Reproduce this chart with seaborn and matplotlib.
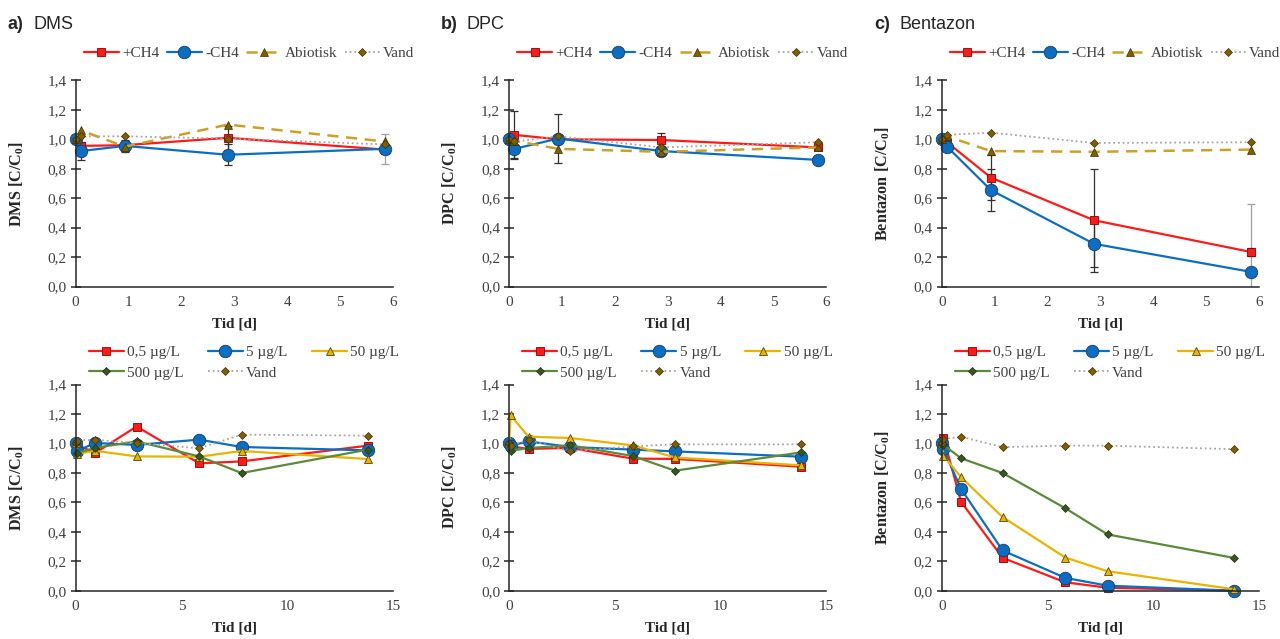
import matplotlib
matplotlib.use("Agg")
import matplotlib.pyplot as plt
from matplotlib.ticker import FuncFormatter, MultipleLocator
import seaborn as sns

# ---------------- data ----------------
# sampling times [d]
t_short = [0, 0.1, 0.93, 2.88, 5.84]
t_long = [0, 0.08, 0.92, 2.88, 5.84, 7.84, 13.8]

# top row: +CH4 / -CH4 / abiotic / water controls
dms_plus = [1.00, 0.955, 0.96, 1.01, 0.93]
dms_minus = [1.00, 0.92, 0.955, 0.895, 0.935]
dms_abio = [1.00, 1.06, 0.95, 1.10, 0.985]
dms_vand = [1.00, 1.02, 1.02, 1.005, 0.965]
dms_plus_err = [0, 0.02, 0.03, 0.08, 0.02]
dms_minus_err = [0, 0.06, 0.04, 0.07, 0.10]

dpc_plus = [1.00, 1.03, 1.00, 0.995, 0.945]
dpc_minus = [1.00, 0.935, 1.005, 0.92, 0.86]
dpc_abio = [1.00, 0.99, 0.935, 0.915, 0.945]
dpc_vand = [1.00, 0.985, 1.02, 0.945, 0.98]
dpc_plus_err = [0, 0.165, 0.03, 0.045, 0.02]
dpc_minus_err = [0, 0.06, 0.165, 0.01, 0.025]

ben_plus = [1.00, 0.98, 0.74, 0.45, 0.235]
ben_minus = [1.00, 0.95, 0.655, 0.29, 0.10]
ben_abio = [1.00, 1.02, 0.92, 0.915, 0.93]
ben_vand = [1.00, 1.03, 1.045, 0.975, 0.98]
ben_plus_err = [0, 0.02, 0.15, 0.35, 0.03]
ben_minus_err = [0, 0.02, 0.14, 0.16, 0.46]

# bottom row: initial concentrations 0.5 / 5 / 50 / 500 ug/L and water
dms_c05 = [1.00, 0.99, 0.935, 1.115, 0.865, 0.878, 0.985]
dms_c5 = [1.00, 0.95, 1.003, 0.99, 1.026, 0.976, 0.953]
dms_c50 = [1.00, 0.93, 0.95, 0.912, 0.91, 0.949, 0.894]
dms_c500 = [1.00, 0.935, 0.97, 1.014, 0.912, 0.799, 0.958]
dms_vand2 = [1.00, 1.02, 1.025, 1.003, 0.967, 1.06, 1.053]

dpc_c05 = [1.00, 0.98, 0.963, 0.97, 0.897, 0.895, 0.842]
dpc_c5 = [1.00, 0.985, 1.014, 0.976, 0.958, 0.946, 0.91]
dpc_c50 = [1.00, 1.19, 1.046, 1.037, 0.987, 0.905, 0.851]
dpc_c500 = [1.00, 0.95, 0.969, 0.987, 0.915, 0.815, 0.939]
dpc_vand2 = [1.00, 0.985, 1.025, 0.946, 0.98, 0.994, 0.994]

ben_c05 = [1.00, 1.04, 0.603, 0.223, 0.057, 0.02, 0.0]
ben_c5 = [1.00, 0.96, 0.69, 0.273, 0.087, 0.034, 0.0]
ben_c50 = [1.00, 0.917, 0.77, 0.50, 0.225, 0.132, 0.01]
ben_c500 = [1.00, 0.99, 0.899, 0.799, 0.56, 0.382, 0.223]
ben_vand2 = [1.00, 1.03, 1.045, 0.975, 0.985, 0.985, 0.961]

compounds = ["DMS", "DPC", "Bentazon"]
panel_letters = ["a)", "b)", "c)"]
top_labels = ["+CH4", "-CH4", "Abiotisk", "Vand"]
bottom_labels = ["0,5 µg/L", "5 µg/L", "50 µg/L", "500 µg/L", "Vand"]
yticks = [0.0, 0.2, 0.4, 0.6, 0.8, 1.0, 1.2, 1.4]

top_data = [
    (dms_plus, dms_minus, dms_abio, dms_vand, dms_plus_err, dms_minus_err),
    (dpc_plus, dpc_minus, dpc_abio, dpc_vand, dpc_plus_err, dpc_minus_err),
    (ben_plus, ben_minus, ben_abio, ben_vand, ben_plus_err, ben_minus_err),
]
bottom_data = [
    (dms_c05, dms_c5, dms_c50, dms_c500, dms_vand2),
    (dpc_c05, dpc_c5, dpc_c50, dpc_c500, dpc_vand2),
    (ben_c05, ben_c5, ben_c50, ben_c500, ben_vand2),
]

# ---------------- styles ----------------
RED, RED_E = "#FF1A1A", "#8B0000"
BLUE, BLUE_E = "#0A6FC2", "#1F3864"
GOLD, OLIVE = "#C9A227", "#7F6000"
GREY = "#A6A6A6"
YELLOW = "#E8B400"
GREEN, DGREEN = "#5B8A3A", "#375623"

top_styles = [
    dict(color=RED, marker="s", markersize=6, markerfacecolor=RED, markeredgecolor=RED_E,
         markeredgewidth=0.6, linestyle="-", linewidth=1.6),
    dict(color=BLUE, marker="o", markersize=9, markerfacecolor=BLUE, markeredgecolor=BLUE_E,
         markeredgewidth=0.6, linestyle="-", linewidth=1.6),
    dict(color=GOLD, marker="^", markersize=5.5, markerfacecolor=OLIVE, markeredgecolor="#3d2e00",
         markeredgewidth=0.5, linestyle=(0, (4.5, 3)), linewidth=1.8),
    dict(color=GREY, marker="D", markersize=4.2, markerfacecolor=OLIVE, markeredgecolor="#3d2e00",
         markeredgewidth=0.5, linestyle=(0, (1, 1.6)), linewidth=1.3),
]
bottom_styles = [
    dict(color=RED, marker="s", markersize=6, markerfacecolor=RED, markeredgecolor=RED_E,
         markeredgewidth=0.6, linestyle="-", linewidth=1.6),
    dict(color=BLUE, marker="o", markersize=9, markerfacecolor=BLUE, markeredgecolor=BLUE_E,
         markeredgewidth=0.6, linestyle="-", linewidth=1.6),
    dict(color=YELLOW, marker="^", markersize=6, markerfacecolor=YELLOW, markeredgecolor="#5a4500",
         markeredgewidth=0.6, linestyle="-", linewidth=1.6),
    dict(color=GREEN, marker="D", markersize=4.2, markerfacecolor=DGREEN, markeredgecolor="#1e3312",
         markeredgewidth=0.5, linestyle="-", linewidth=1.6),
    dict(color=GREY, marker="D", markersize=4.2, markerfacecolor=OLIVE, markeredgecolor="#3d2e00",
         markeredgewidth=0.5, linestyle=(0, (1, 1.6)), linewidth=1.3),
]

sns.set_style("white")
plt.rcParams.update({
    "font.family": ["Liberation Serif", "DejaVu Serif"],
    "mathtext.fontset": "custom",
    "mathtext.rm": "Liberation Serif",
    "mathtext.bf": "Liberation Serif:bold",
    "axes.edgecolor": "#262626",
    "axes.linewidth": 1.1,
})

fig = plt.figure(figsize=(12.8, 6.39), dpi=100)

lefts = [0.0591, 0.3977, 0.7357]
width = 0.248
row_bottoms = [0.5516, 0.0756]
height = 0.3226

comma = FuncFormatter(lambda v, p: f"{v:.1f}".replace(".", ","))


def style_axis(ax, xmax, xstep, compound):
    ax.set_xlim(0, xmax)
    ax.set_ylim(0, 1.4)
    ax.set_yticks(yticks)
    ax.yaxis.set_major_formatter(comma)
    ax.xaxis.set_major_locator(MultipleLocator(xstep))
    ax.tick_params(axis="y", direction="inout", length=7, width=1.1, colors="#262626",
                   labelsize=11, labelcolor="#404040", left=True, pad=3)
    ax.tick_params(axis="x", length=0, labelsize=11, labelcolor="#404040", pad=7)
    for s in ("top", "right"):
        ax.spines[s].set_visible(False)
    ax.set_xlabel("Tid [d]", fontsize=11, fontweight="bold", color="#262626")
    ax.xaxis.set_label_coords(0.5, -0.15)
    ax.set_ylabel(compound + r" [C/C$_{\mathbf{0}}$]", fontsize=11.7, fontweight="bold",
                  color="#262626")
    ax.yaxis.set_label_coords(-0.157, 0.5)


for i, comp in enumerate(compounds):
    # ---- top row ----
    ax = fig.add_axes([lefts[i], row_bottoms[0], width, height])
    plus, minus, abio, vand, plus_err, minus_err = top_data[i]
    for j in range(len(t_short)):
        if minus_err[j] > 0:
            ecol = "#A0A0A0" if j == len(t_short) - 1 else "#303030"
            ax.errorbar(t_short[j], minus[j], yerr=minus_err[j], fmt="none", ecolor=ecol,
                        elinewidth=0.9, capsize=3, capthick=0.9, zorder=1)
        if plus_err[j] > 0:
            ax.errorbar(t_short[j], plus[j], yerr=plus_err[j], fmt="none", ecolor="#303030",
                        elinewidth=0.9, capsize=3, capthick=0.9, zorder=1)
    for series, lab, st in zip([plus, minus, abio, vand], top_labels, top_styles):
        sns.lineplot(x=t_short, y=series, ax=ax, label=lab, sort=False, clip_on=False, **st)
    style_axis(ax, 6, 1, comp)
    ax.legend(loc="center", bbox_to_anchor=(0.546, 1.13), ncol=4, frameon=False,
              fontsize=11, handlelength=2.3, handletextpad=0.2, columnspacing=0.5,
              labelcolor="#404040")

    fig.text(lefts[i] - 0.053, 0.955, panel_letters[i], fontsize=13, fontweight="bold",
             family="Liberation Sans", va="baseline", ha="left")
    fig.text(lefts[i] - 0.033, 0.955, comp, fontsize=13, family="Liberation Sans",
             va="baseline", ha="left")

    # ---- bottom row ----
    ax2 = fig.add_axes([lefts[i], row_bottoms[1], width, height])
    for series, lab, st in zip(bottom_data[i], bottom_labels, bottom_styles):
        sns.lineplot(x=t_long, y=series, ax=ax2, label=lab, sort=False, clip_on=False, **st)
    style_axis(ax2, 15, 5, comp)
    h, l = ax2.get_legend_handles_labels()
    order = [0, 3, 1, 4, 2]
    ax2.legend([h[k] for k in order], [l[k] for k in order], loc="center",
               bbox_to_anchor=(0.53, 1.107), ncol=3, frameon=False, fontsize=11,
               handlelength=2.3, handletextpad=0.2, columnspacing=1.6,
               labelspacing=0.45, labelcolor="#404040")

fig.savefig("out.png", dpi=100)
